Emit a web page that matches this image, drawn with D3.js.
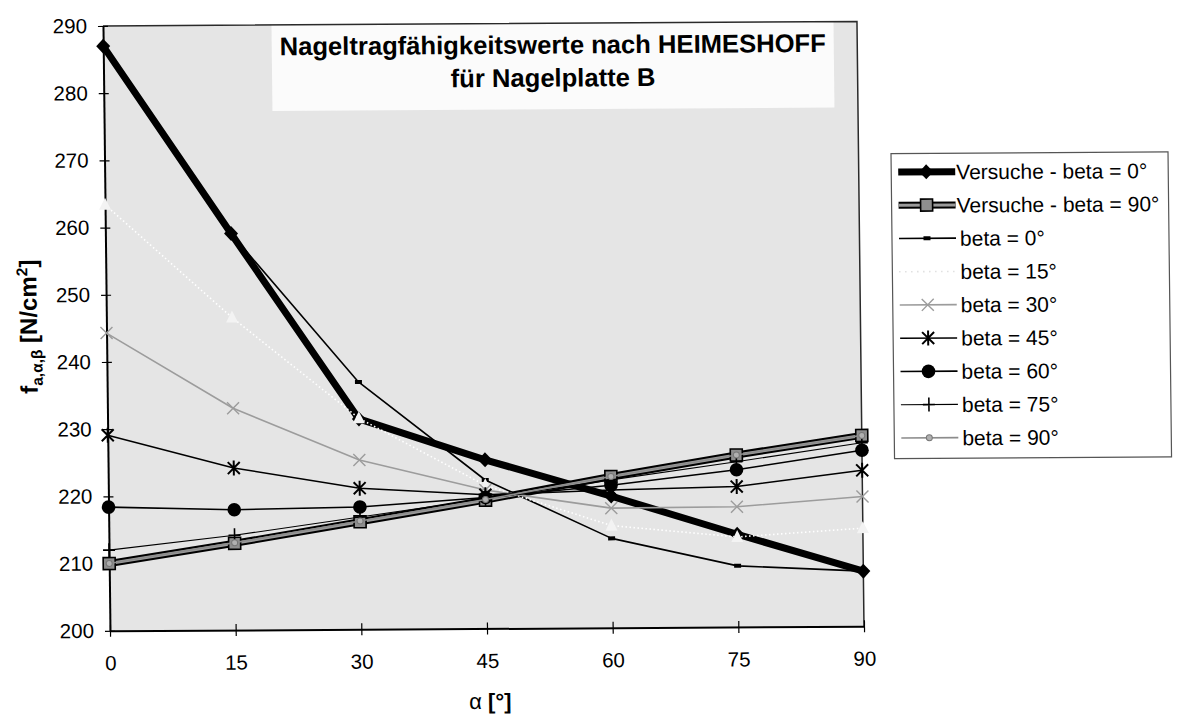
<!DOCTYPE html>
<html>
<head>
<meta charset="utf-8">
<script src="https://cdn.jsdelivr.net/npm/d3@7"></script>
<style>
  body { margin: 0; background: #fff; }
  svg { display: block; }
  text { font-family: Arial, "Liberation Sans", sans-serif; fill: #000; }
</style>
</head>
<body>
<svg id="chart" width="1179" height="720"></svg>
<script>
// Nail load-bearing values f(a, alpha, beta) in N/cm², by angle alpha [°]
const alphaDeg   = [0, 15, 30, 45, 60, 75, 90];
const versuche0  = [287.0, 259.0, 231.3, 225.1, 219.6, 213.8, 208.2];
const versuche90 = [210.0, 212.9, 216.0, 219.1, 222.5, 225.6, 228.4];
const beta0      = [287.0, 259.0, 236.8, 222.1, 213.3, 209.1, 208.2];
const beta15     = [263.4, 246.5, 231.4, 221.3, 215.2, 213.4, 214.6];
const beta30     = [244.3, 233.0, 225.2, 220.6, 217.8, 217.9, 219.3];
const beta45     = [229.1, 224.1, 221.0, 219.9, 220.5, 220.9, 223.2];
const beta60     = [218.4, 217.9, 218.2, 219.5, 221.2, 223.4, 226.2];
const beta75     = [212.0, 214.1, 216.7, 219.3, 222.0, 224.6, 227.3];
const beta90     = [210.0, 213.0, 216.1, 219.2, 222.5, 225.6, 228.4];

const yTicks = [200, 210, 220, 230, 240, 250, 260, 270, 280, 290];
const xTicks = [0, 15, 30, 45, 60, 75, 90];

const seriesNames = [
  "Versuche - beta = 0°", "Versuche - beta = 90°",
  "beta = 0°", "beta = 15°", "beta = 30°", "beta = 45°",
  "beta = 60°", "beta = 75°", "beta = 90°"
];
const seriesValues = [versuche0, versuche90, beta0, beta15, beta30, beta45, beta60, beta75, beta90];

// line and marker look of each series
const styles = [
  { layers: [{ c: "#000", w: 7 }], marker: "diamond" },
  { layers: [{ c: "#000", w: 7 }, { c: "#9a9a9a", w: 3 }], marker: "square" },
  { layers: [{ c: "#000", w: 1.6 }], marker: "dash" },
  { layers: [{ c: "#fff", w: 1.6, dash: "1.5,2.5" }], marker: "triangle" },
  { layers: [{ c: "#9c9c9c", w: 1.6 }], marker: "cross" },
  { layers: [{ c: "#000", w: 1.5 }], marker: "star" },
  { layers: [{ c: "#000", w: 1.6 }], marker: "circle" },
  { layers: [{ c: "#000", w: 1.1 }], marker: "plus" },
  { layers: [{ c: "#8c8c8c", w: 1.6 }], marker: "dot" }
];

const svg = d3.select("#chart");
// slight shear of the whole sheet
const root = svg.append("g")
  .attr("transform", "matrix(1,-0.006,0.0116,1,-3.805,2.91)");

const x = d3.scaleLinear().domain([0, 90]).range([106.5, 860.5]);
const y = d3.scaleLinear().domain([200, 290]).range([628.5, 23.7]);
const [x0, x1] = x.range();
const [yb, yt] = y.range();

// plot area
root.append("rect")
  .attr("x", x0).attr("y", yt)
  .attr("width", x1 - x0).attr("height", yb - yt)
  .attr("fill", "#e5e5e5");

// title box
root.append("rect")
  .attr("x", 275).attr("y", yt).attr("width", 562).attr("height", 86)
  .attr("fill", "#fbfbfb");
const title = root.append("text")
  .attr("text-anchor", "middle")
  .style("font-weight", "bold").style("font-size", "25.6px");
title.append("tspan").attr("x", 556).attr("y", 54).text("Nageltragfähigkeitswerte nach HEIMESHOFF");
title.append("tspan").attr("x", 556).attr("y", 87).text("für Nagelplatte B");

// top and right frame
root.append("path")
  .attr("d", `M${x0},${yt}H${x1}V${yb}`)
  .attr("fill", "none").attr("stroke", "#2a2a2a").attr("stroke-width", 1.5);

// axes
const yAxis = root.append("g")
  .attr("transform", `translate(${x0},0)`)
  .call(d3.axisLeft(y).tickValues(yTicks).tickSize(5).tickSizeOuter(0).tickPadding(11));
yAxis.selectAll(".tick line").attr("x1", 5);
const xAxis = root.append("g")
  .attr("transform", `translate(0,${yb})`)
  .call(d3.axisBottom(x).tickValues(xTicks).tickSize(6).tickSizeOuter(0).tickPadding(19));
xAxis.selectAll(".tick line").attr("y1", -6);
[yAxis, xAxis].forEach(a => {
  a.select(".domain").attr("stroke", "#000").attr("stroke-width", 2);
  a.selectAll(".tick line").attr("stroke", "#000").attr("stroke-width", 1.2);
  a.selectAll(".tick text")
    .style("font-size", "20.5px").style("font-family", "Arial, 'Liberation Sans', sans-serif")
    .attr("fill", "#000");
});

// axis titles
const xt = root.append("text")
  .attr("x", 486).attr("y", 709).attr("text-anchor", "middle")
  .style("font-size", "22px");
xt.append("tspan").text("α");
xt.append("tspan").style("font-weight", "bold").text(" [°]");

const yl = root.append("text")
  .attr("transform", "translate(37,324) rotate(-90)")
  .attr("text-anchor", "middle")
  .style("font-weight", "bold").style("font-size", "24px");
yl.append("tspan").text("f");
yl.append("tspan").attr("dy", 5).style("font-size", "15.5px").text("a,α,β");
yl.append("tspan").attr("dy", -5).text(" [N/cm");
yl.append("tspan").attr("dy", -9).style("font-size", "15.5px").text("2");
yl.append("tspan").attr("dy", 9).text("]");

// marker shapes
function marker(g, type, cx, cy) {
  const m = g.append("g").attr("transform", `translate(${cx},${cy})`);
  switch (type) {
    case "diamond":
      m.append("path").attr("d", "M0,-7.5L7,0L0,7.5L-7,0Z").attr("fill", "#000"); break;
    case "square":
      m.append("rect").attr("x", -6).attr("y", -6).attr("width", 12).attr("height", 12)
        .attr("fill", "#8e8e8e").attr("stroke", "#000").attr("stroke-width", 1.6); break;
    case "dash":
      m.append("rect").attr("x", -3.5).attr("y", -2).attr("width", 7).attr("height", 4).attr("fill", "#000"); break;
    case "triangle":
      m.append("path").attr("d", "M0,-7L6,5L-6,5Z").attr("fill", "#f3f3f3"); break;
    case "cross":
      m.append("path").attr("d", "M-6,-6L6,6M-6,6L6,-6")
        .attr("stroke", "#9c9c9c").attr("stroke-width", 1.4); break;
    case "star":
      m.append("path").attr("d", "M-6,-6L6,6M-6,6L6,-6M0,-7.5V7.5")
        .attr("stroke", "#000").attr("stroke-width", 2); break;
    case "circle":
      m.append("circle").attr("r", 6.8).attr("fill", "#000"); break;
    case "plus":
      m.append("path").attr("d", "M0,-7V7M-6,0H6")
        .attr("stroke", "#000").attr("stroke-width", 1.6); break;
    case "dot":
      m.append("circle").attr("r", 3).attr("fill", "#b0b0b0").attr("stroke", "#777").attr("stroke-width", 1); break;
  }
}

// series
const line = d3.line().x((d, i) => x(alphaDeg[i])).y(d => y(d));
seriesValues.forEach((vals, k) => {
  const g = root.append("g");
  styles[k].layers.forEach(l => {
    g.append("path").datum(vals).attr("d", line)
      .attr("fill", "none").attr("stroke", l.c).attr("stroke-width", l.w)
      .attr("stroke-dasharray", l.dash || null)
      .attr("stroke-linejoin", "round");
  });
  vals.forEach((v, i) => marker(g, styles[k].marker, x(alphaDeg[i]), y(v)));
});

// legend
const legend = root.append("g");
legend.append("rect")
  .attr("x", 893).attr("y", 156).attr("width", 277).attr("height", 305)
  .attr("fill", "#fff").attr("stroke", "#555").attr("stroke-width", 1.2);
seriesNames.forEach((name, k) => {
  const cy = 174.5 + k * 33.25;
  const g = legend.append("g");
  styles[k].layers.forEach(l => {
    g.append("line").attr("x1", 900).attr("x2", 957).attr("y1", cy).attr("y2", cy)
      .attr("stroke", k === 3 ? "#d0d0d0" : l.c).attr("stroke-width", l.w)
      .attr("stroke-dasharray", k === 3 ? "1,5" : null);
  });
  if (k !== 3) marker(g, styles[k].marker, 928, cy);
  g.append("text").attr("x", k < 2 ? 958 : 961).attr("y", cy).attr("dy", "0.36em")
    .style("font-size", "21px").text(name);
});
</script>
</body>
</html>
